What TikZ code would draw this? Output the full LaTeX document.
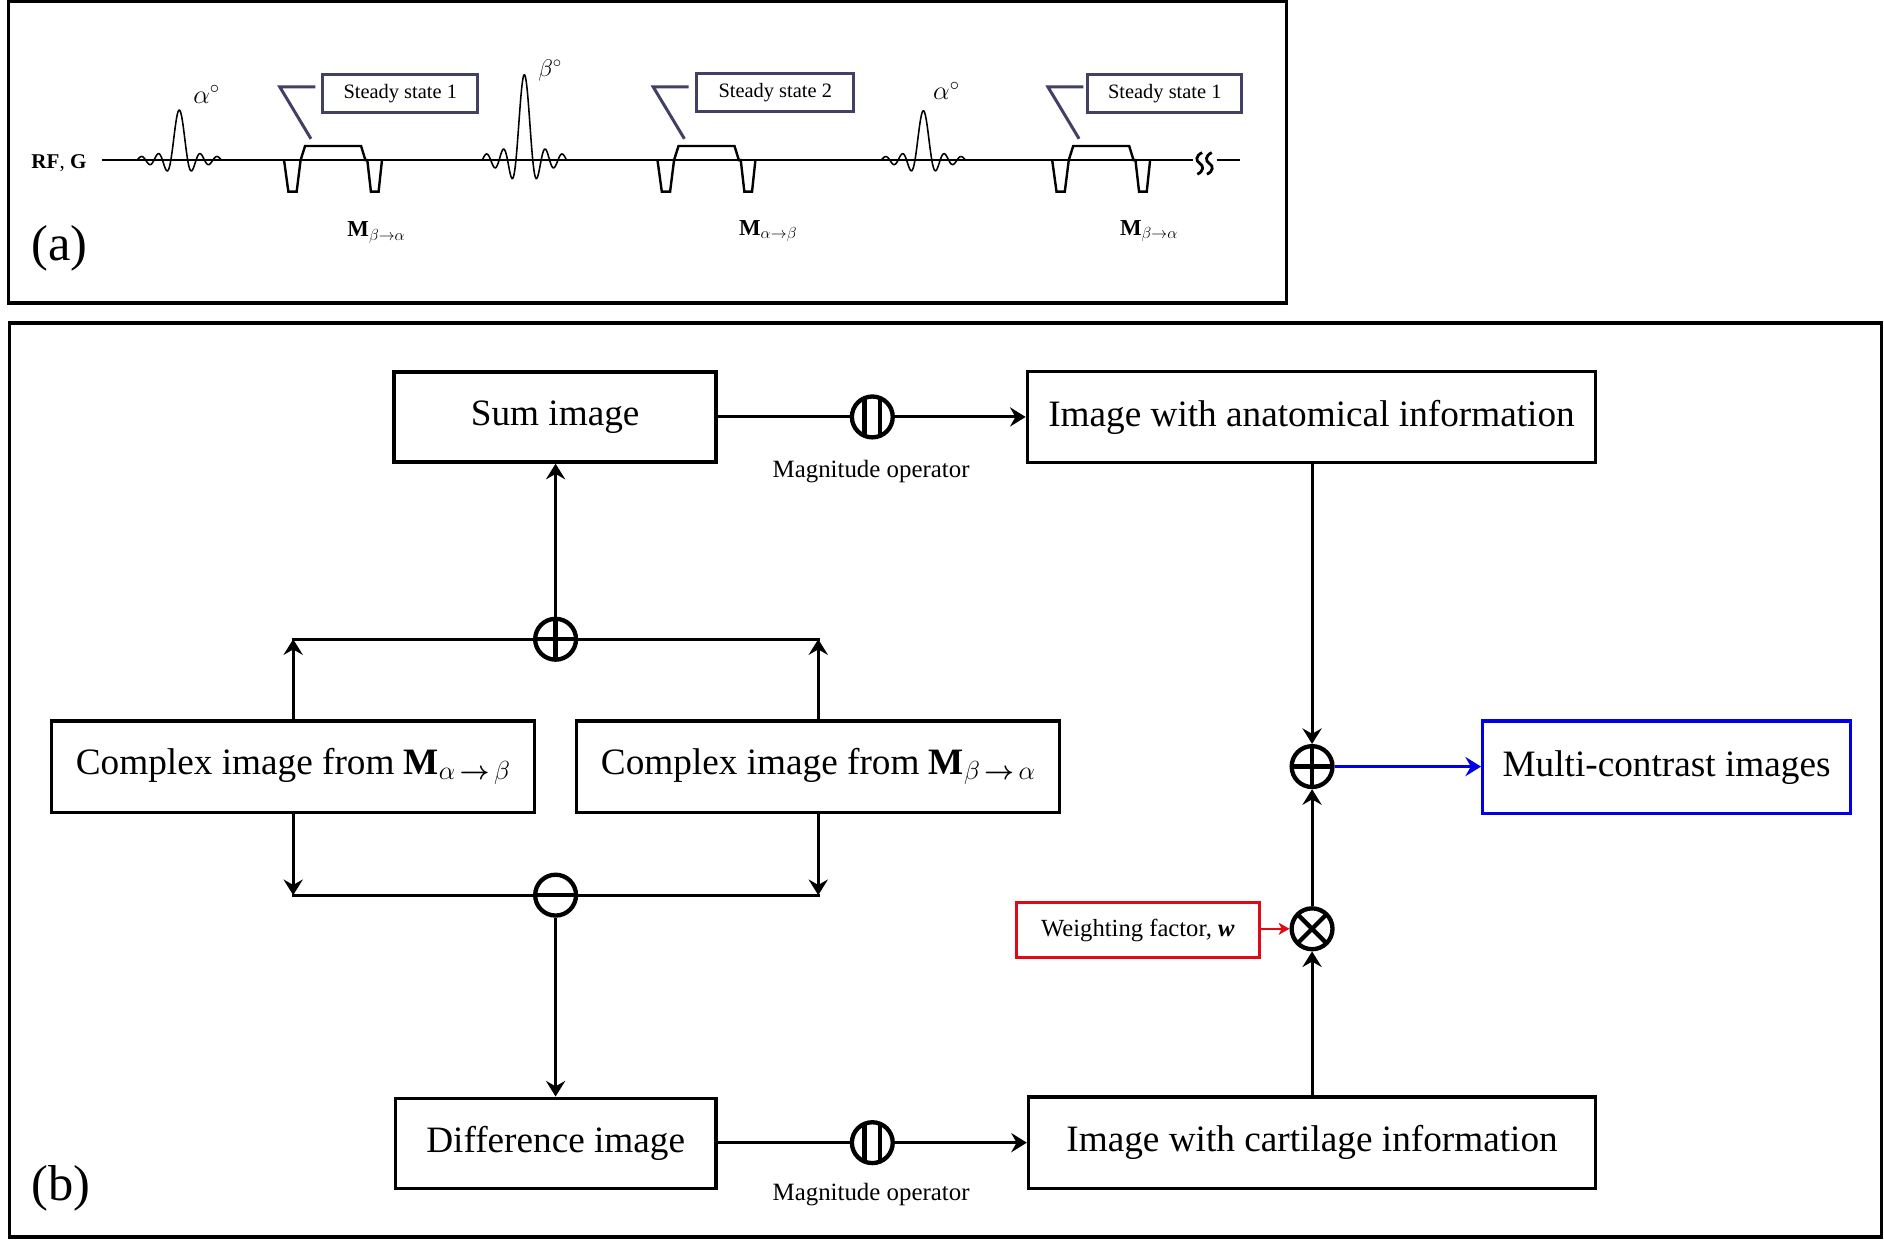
\RequirePackage{fix-cm}
\documentclass[tikz,border=0pt]{standalone}
\usepackage{amsmath}
\usepackage{bm}
\usepackage{fontspec}
\setmainfont{Liberation Serif}
\usetikzlibrary{arrows.meta,calc}
\definecolor{sscol}{RGB}{66,64,100}
\definecolor{myblue}{RGB}{0,0,235}
\definecolor{myred}{RGB}{225,10,20}

\newcommand\rfpulse[3]{% center x, amplitude, name
  \draw[pulse] plot[domain=-5:5,samples=200] ({#1+7*\x},{133.2-#2*sin(180*\x)/(pi*\x)});}
\newcommand\gradshape[1]{%
  \draw[gradl] (#1,133.2) -- ({#1+3.6},159.5) -- ({#1+10.5},159.5) -- ({#1+13.8},133.2)
    -- ({#1+17.5},121.5) -- ({#1+64.1},121.5) -- ({#1+67.7},133.2) -- ({#1+69.3},133.2)
    -- ({#1+72.3},159.5) -- ({#1+78.7},159.5) -- ({#1+81.5},133.2);
  \draw[ssline] ({#1+26},72.4) -- ({#1-3.5},72.4) -- ({#1+22.4},115.5);}
\newcommand\breaksym[1]{%
  \draw[line width=2.3pt] ({#1+2},127) .. controls ({#1-3.5},129.5) and ({#1-3.5},134) .. (#1,136)
    .. controls ({#1+3.5},138) and ({#1+3.5},142.5) .. ({#1-2},145);}

\begin{document}
\begin{tikzpicture}[x=1pt,y=-1pt,
  panel/.style={draw, line width=2.6pt},
  fbox/.style={draw, line width=2.8pt, inner sep=0pt, font=\fontsize{31}{37}\selectfont},
  conn/.style={line width=2.4pt},
  arr/.style={line width=2.4pt, -{Stealth[length=13pt,width=16pt,inset=4.5pt]}},
  redarr/.style={line width=2pt, myred, -{Stealth[length=9pt,width=10pt,inset=2.5pt]}},
  opc/.style={circle, draw, line width=3.6pt, minimum size=34pt, inner sep=0pt, fill=white},
  oplus/.style={opc, path picture={\draw[line width=3.6pt] (path picture bounding box.north) -- (path picture bounding box.south) (path picture bounding box.west) -- (path picture bounding box.east);}},
  ominus/.style={opc, path picture={\draw[line width=3.6pt] (path picture bounding box.west) -- (path picture bounding box.east);}},
  otimes/.style={opc, path picture={\draw[line width=3.6pt] (path picture bounding box.south west) -- (path picture bounding box.north east) (path picture bounding box.north west) -- (path picture bounding box.south east);}},
  omag/.style={opc, path picture={\draw[line width=3.6pt] ([xshift=-6.5pt]path picture bounding box.north) -- ([xshift=-6.5pt]path picture bounding box.south) ([xshift=6.5pt]path picture bounding box.north) -- ([xshift=6.5pt]path picture bounding box.south);}},
  maglabel/.style={anchor=base, inner sep=0pt, font=\fontsize{20.7}{24}\selectfont},
  ssbox/.style={draw=sscol, line width=2.5pt, inner sep=0pt, minimum height=31.7pt, font=\fontsize{17}{20}\selectfont},
  ssline/.style={draw=sscol, line width=2.5pt},
  pulse/.style={line width=1.3pt},
  gradl/.style={line width=2pt, line join=miter},
  mlabel/.style={anchor=base west, inner sep=0pt, font=\fontsize{19}{22}\selectfont},
  plabel/.style={anchor=base west, inner sep=0pt, font=\fontsize{42}{48}\selectfont}
]
\useasboundingbox[fill=white] (0,0) rectangle (1568,1034);

% ---------- panel (a) ----------
\draw[panel] (7,1.3) rectangle (1071,252.2);
\draw[line width=2pt] (84.5,133.2) -- (992.7,133.2);
\draw[line width=2pt] (1012.6,133.2) -- (1032,133.2);
\breaksym{998.5}
\breaksym{1006.5}

\rfpulse{149.2}{41.6}{p1}
\rfpulse{436.4}{71}{p2}
\rfpulse{768.5}{41}{p3}

\gradshape{236.4}
\gradshape{547.2}
\gradshape{875.7}

\node[ssbox, minimum width=129pt] (ss1) at (333.1,77.5) {Steady state 1};
\node[ssbox, minimum width=131pt] (ss2) at (645.2,77.3) {Steady state 2};
\node[ssbox, minimum width=128pt] (ss3) at (969.4,77.8) {Steady state 1};

\node[anchor=base west, inner sep=0pt, font=\fontsize{17.5}{20}\selectfont] (rf) at (26,140) {\textbf{RF}, \textbf{G}};
\node[anchor=base west, inner sep=0pt, font=\fontsize{22}{26}\selectfont] (al1) at (160.7,86) {$\alpha^{\circ}$};
\node[anchor=base west, inner sep=0pt, font=\fontsize{20}{24}\selectfont] (bl2) at (447.8,63.4) {$\beta^{\circ}$};
\node[anchor=base west, inner sep=0pt, font=\fontsize{22}{26}\selectfont] (al3) at (776.5,83) {$\alpha^{\circ}$};

\node[mlabel] (m1) at (289,197) {\textbf{M}$_{\beta\to\alpha}$};
\node[mlabel] (m2) at (615,196) {\textbf{M}$_{\alpha\to\beta}$};
\node[mlabel] (m3) at (932,196) {\textbf{M}$_{\beta\to\alpha}$};
\node[plabel] (la) at (26,217) {(a)};

% ---------- panel (b) ----------
\draw[panel] (8,268.8) rectangle (1566,1029.5);
\node[plabel] (lb) at (26.4,999.5) {(b)};

\node[fbox, minimum width=268pt, minimum height=75pt] (sum) at (462,347) {Sum image};
\node[fbox, minimum width=473pt, minimum height=76pt] (anat) at (1091.5,347) {Image with anatomical information};
\node[fbox, minimum width=402pt, minimum height=76pt] (cl) at (244,638) {Complex image from \textbf{M}$_{\alpha\,\bm{\rightarrow}\,\beta}$};
\node[fbox, minimum width=402pt, minimum height=76pt] (cr) at (681,638) {Complex image from \textbf{M}$_{\beta\,\bm{\rightarrow}\,\alpha}$};
\node[fbox, minimum width=267pt, minimum height=75pt] (diff) at (462.5,951.5) {Difference image};
\node[fbox, minimum width=472pt, minimum height=76pt] (cart) at (1092,951) {Image with cartilage information};
\node[fbox, draw=myblue, minimum width=306pt, minimum height=77pt] (multi) at (1387,638.5) {Multi-contrast images};
\node[draw=myred, line width=2.5pt, inner sep=0pt, minimum width=202pt, minimum height=46pt, font=\fontsize{20.5}{24}\selectfont] (weight) at (947,774) {Weighting factor, \textbf{\textit{w}}};

\node[omag] (mag1) at (726,347) {};
\node[omag] (mag2) at (726,951) {};
\node[oplus] (plus1) at (462.4,532) {};
\node[ominus] (minus1) at (462.4,745) {};
\node[oplus] (plus2) at (1092,638) {};
\node[otimes] (times) at (1092,773) {};

\node[maglabel] (ml1) at (725,397) {Magnitude operator};
\node[maglabel] (ml2) at (725,999) {Magnitude operator};

\coordinate (tl) at (cl.north |- plus1.center);
\coordinate (tr) at (cr.north |- plus1.center);
\coordinate (bl) at (cl.south |- minus1.center);
\coordinate (br) at (cr.south |- minus1.center);

\draw[conn] (sum.east |- mag1.center) -- (mag1.west);
\draw[arr] (mag1.east) -- (anat.west |- mag1.center);
\draw[arr] (plus1.north) -- (plus1.north |- sum.south);
\draw[arr] (cl.north) -- (tl);
\draw[arr] (cr.north) -- (tr);
\draw[conn] ([xshift=-1.2pt]tl) -- (plus1.west);
\draw[conn] (plus1.east) -- ([xshift=1.2pt]tr);
\draw[arr] (cl.south) -- (bl);
\draw[arr] (cr.south) -- (br);
\draw[conn] ([xshift=-1.2pt]bl) -- (minus1.west);
\draw[conn] (minus1.east) -- ([xshift=1.2pt]br);
\draw[arr] (minus1.south) -- (minus1.south |- diff.north);
\draw[conn] (diff.east |- mag2.center) -- (mag2.west);
\draw[arr] (mag2.east) -- (cart.west |- mag2.center);
\draw[arr] (anat.south -| plus2.center) -- (plus2.north);
\draw[arr] (times.north) -- (plus2.south);
\draw[arr] (cart.north -| times.center) -- (times.south);
\draw[arr, draw=myblue, fill=myblue] (plus2.east) -- (multi.west |- plus2.center);
\draw[redarr] (weight.east |- times.center) -- (times.west);
\end{tikzpicture}
\end{document}
